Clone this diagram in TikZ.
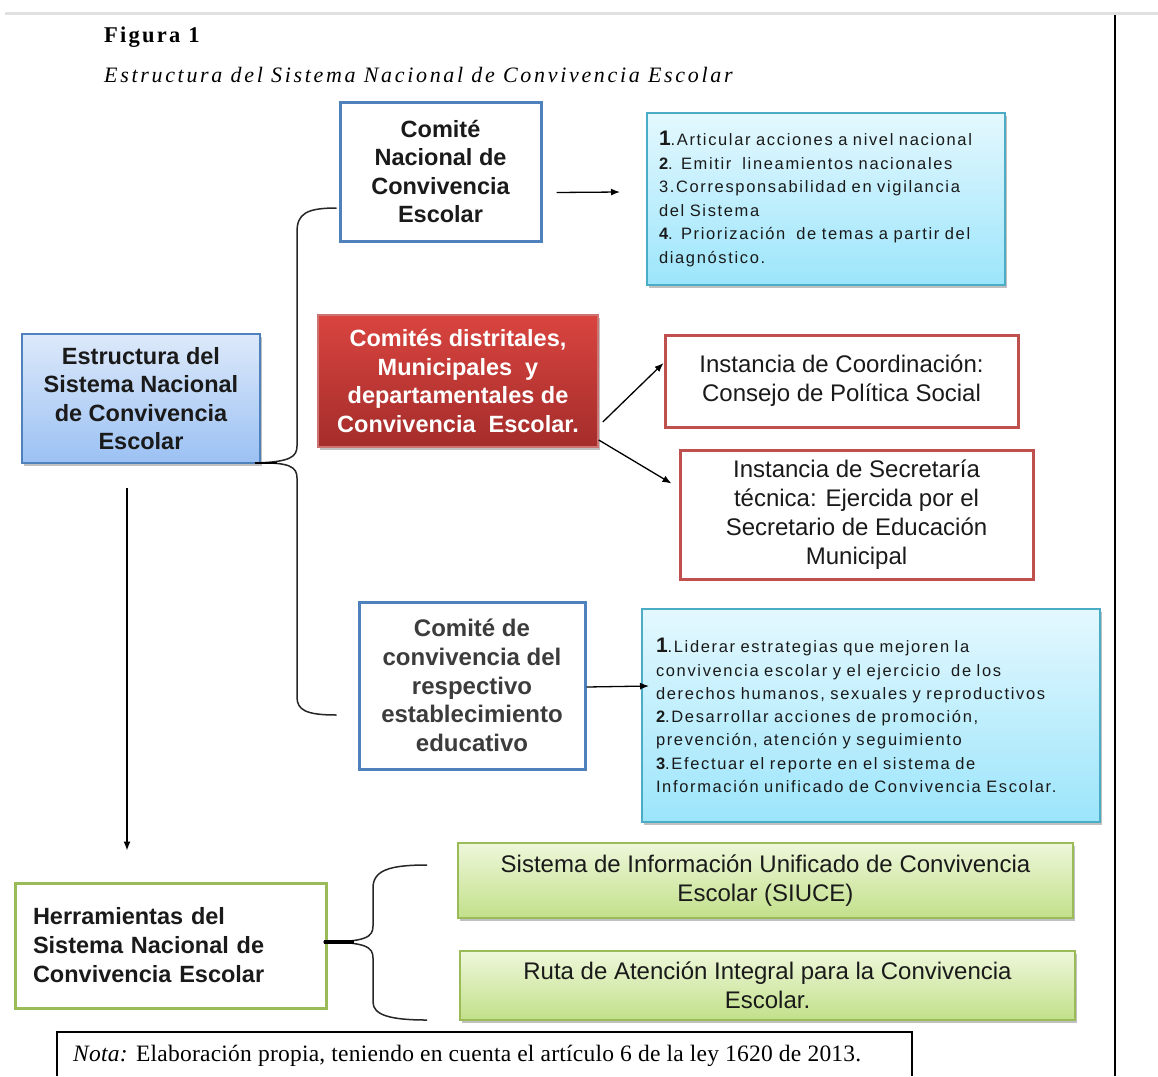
\documentclass[tikz,border=0pt]{standalone}
\usepackage{fontspec}
\setmainfont{Liberation Serif}
\newfontfamily\arialf{Liberation Sans}
\newfontfamily\arialsp{Liberation Sans}[LetterSpace=10]
\newfontfamily\titlef{Liberation Serif}[LetterSpace=10]
\newfontfamily\subf{Liberation Serif}[LetterSpace=12.2]
\newfontfamily\notaf{Liberation Serif}[LetterSpace=1]
\usetikzlibrary{arrows.meta,shadows,calc}
\definecolor{bluebd}{HTML}{4F81BD}
\definecolor{redbd}{HTML}{C0504D}
\definecolor{greenbd}{HTML}{9BBB59}
\definecolor{cyanbd}{HTML}{4BACC6}
\definecolor{cyantop}{HTML}{E4F8FE}
\definecolor{cyanbot}{HTML}{9CE5FB}
\definecolor{bluetop}{HTML}{DDE9FA}
\definecolor{bluebot}{HTML}{9BC1F3}
\definecolor{redtop}{HTML}{D9443F}
\definecolor{redbot}{HTML}{A42D2B}
\definecolor{greentop}{HTML}{EEF7DA}
\definecolor{greenbot}{HTML}{C2E08A}
\definecolor{txt}{HTML}{1A1A1A}
\definecolor{graytxt}{HTML}{3C3C3C}
\begin{document}
\begin{tikzpicture}[x=1pt,y=-1pt,
  boldtxt/.style={font=\arialf\bfseries\fontsize{23.5}{28.4}\selectfont, text=txt, align=center},
  regtxt/.style={font=\arialf\fontsize{24}{29}\selectfont, text=txt, align=center},
  smalltxt/.style={font=\arialsp\fontsize{16.5}{23.6}\selectfont, text=txt, align=left},
  shad/.style={drop shadow={shadow xshift=2pt, shadow yshift=-3pt, opacity=0.35, fill=black!70}},
  blueframe/.style={draw=bluebd, line width=3pt, fill=white, inner sep=0pt},
  redframe/.style={draw=redbd, line width=3pt, fill=white, inner sep=0pt},
  greenframe/.style={draw=greenbd, line width=3pt, fill=white, inner sep=0pt},
  cyanbox/.style={shad, draw=cyanbd, line width=2pt, top color=cyantop, bottom color=cyanbot, inner ysep=0pt},
  greenbox/.style={shad, draw=greenbd, line width=2pt, top color=greentop, bottom color=greenbot, inner sep=0pt},
  arr/.style={line width=1.3pt, -{Latex[length=9pt,width=7pt]}},
  bracel/.style={line width=1.5pt, black!85}
]
\useasboundingbox (0,0) rectangle (1158,1076);
\fill[white] (0,0) rectangle (1158,1076);
\draw[line width=3pt, black!12] (5,13) -- (1158,13);
\draw[line width=2.5pt] (1115,15) -- (1115,1076);

\node[anchor=base west, inner sep=0pt] (fig) at (104,42) {\titlef\bfseries\fontsize{22.5}{26}\selectfont Figura 1};
\node[anchor=base west, inner sep=0pt] (sub) at (104,82) {\subf\itshape\fontsize{22}{26}\selectfont Estructura del Sistema Nacional de Convivencia Escolar};

% boxes
\node[blueframe, boldtxt, minimum width=201pt, minimum height=139pt] (cn) at (440.5,171.5) {Comité\\Nacional de\\Convivencia\\Escolar};
\node[cyanbox, smalltxt, minimum width=358pt, minimum height=172pt, text width=334pt, inner xsep=12pt] (info1) at (826,199)
 {{\bfseries\fontsize{21}{23.6}\selectfont 1}.Articular acciones a nivel nacional\\
  \textbf{2}. Emitir~ lineamientos nacionales\\
  3.Corresponsabilidad en vigilancia\\
  del Sistema\\
  \textbf{4}. Priorización~ de temas a partir del\\
  diagnóstico.};
\node[shad, draw=bluebd, line width=2pt, top color=bluetop, bottom color=bluebot, inner sep=0pt, boldtxt, minimum width=238pt, minimum height=129pt] (est) at (141,398.5) {Estructura del\\Sistema Nacional\\de Convivencia\\Escolar};
\node[shad, draw=redbd!80!white, line width=1.5pt, top color=redtop, bottom color=redbot, inner sep=0pt, boldtxt, text=white, minimum width=280pt, minimum height=132pt] (red) at (458,381) {Comités distritales,\\Municipales~ y\\departamentales de\\Convivencia~ Escolar.};
\node[redframe, regtxt, minimum width=353pt, minimum height=92pt] (coord) at (841.5,381) {Instancia de Coordinación:\\Consejo de Política Social};
\node[redframe, regtxt, minimum width=353pt, minimum height=129pt] (sec) at (856.5,514.5) {Instancia de Secretaría\\técnica: Ejercida por el\\Secretario de Educación\\Municipal};
\node[blueframe, boldtxt, text=graytxt, font=\arialf\bfseries\fontsize{24}{28.7}\selectfont, minimum width=226pt, minimum height=167pt] (conv) at (472,685.5) {Comité de\\convivencia del\\respectivo\\establecimiento\\educativo};
\node[cyanbox, smalltxt, font=\arialsp\fontsize{16.5}{23.3}\selectfont, minimum width=458pt, minimum height=213pt, text width=430pt, inner xsep=14pt] (info2) at (871,715.5)
 {{\bfseries\fontsize{21}{23.3}\selectfont 1}.Liderar estrategias que mejoren la\\
  convivencia escolar y el ejercicio~ de los\\
  derechos humanos, sexuales y reproductivos\\
  \textbf{2}.Desarrollar acciones de promoción,\\
  prevención, atención y seguimiento\\
  \textbf{3}.Efectuar el reporte en el sistema de\\
  Información unificado de Convivencia Escolar.};
\node[greenframe, boldtxt, align=left, text width=275pt, inner xsep=18pt, minimum width=311pt, minimum height=125pt, font=\arialf\bfseries\fontsize{23.5}{29}\selectfont] (herr) at (170.5,945.5) {Herramientas del\\Sistema Nacional de\\Convivencia Escolar};
\node[greenbox, regtxt, minimum width=615pt, minimum height=75pt] (g1) at (765.5,880.5) {Sistema de Información Unificado de Convivencia\\Escolar (SIUCE)};
\node[greenbox, regtxt, minimum width=615pt, minimum height=69pt] (g2) at (767.5,985.5) {Ruta de Atención Integral para la Convivencia\\Escolar.};

% nota
\node[anchor=base west, inner sep=0pt, font=\notaf\fontsize{23.5}{27}\selectfont] (nota) at (73,1061) {\textit{Nota:} Elaboración propia, teniendo en cuenta el artículo 6 de la ley 1620 de 2013.};
\draw[line width=1.3pt] (57,1076) -- (57,1032) -- (912,1032) -- (912,1076);

% arrows
\draw[arr] ($(cn.east)+(14,21)$) -- ($(info1.west)+(-26,-7)$);
\draw[arr] ($(red.east)+(4,41)$) -- ($(coord.west)+(0,-18)$);
\draw[arr] ($(red.east)+(0,59)$) -- ($(sec.west)+(-7,-31)$);
\draw[arr] ($(conv.east)+(0,1.5)$) -- ($(info2.west)+(8,-29.5)$);
\draw[arr] ($(est.south)+(-14,24)$) -- ($(herr.north)+(-43.5,-31)$);

% brace 1
\coordinate (b1top) at ($(cn.west)+(-2,36.5)$);
\coordinate (b1tip) at ($(est.south east)+(-6,-1)$);
\coordinate (b1bot) at ($(conv.west)+(-21,29.5)$);
\draw[bracel] (b1top) .. controls (306,208) and (297,214) .. (297,232) -- (297,446) .. controls (297,457) and (290,462) .. (b1tip);
\draw[bracel] (b1tip) .. controls (290,462) and (297,467) .. (297,478) -- (297,697) .. controls (297,710) and (306,715) .. (b1bot);
\draw[line width=2.5pt] (b1tip) -- ($(b1tip)+(22,0)$);

% brace 2
\coordinate (b2top) at ($(g1.west)+(-30,-15.5)$);
\coordinate (b2tip) at ($(herr.east)+(-4,-3.5)$);
\coordinate (b2bot) at ($(g2.west)+(-32,34.5)$);
\draw[bracel] (b2top) .. controls (390,865) and (373,870) .. (373,888) -- (373,926) .. controls (373,937) and (366,942) .. (b2tip);
\draw[bracel] (b2tip) .. controls (366,942) and (373,947) .. (373,958) -- (373,1002) .. controls (373,1015) and (390,1020) .. (b2bot);
\draw[line width=3.5pt] (b2tip) -- ($(b2tip)+(30,0)$);
\end{tikzpicture}
\end{document}
